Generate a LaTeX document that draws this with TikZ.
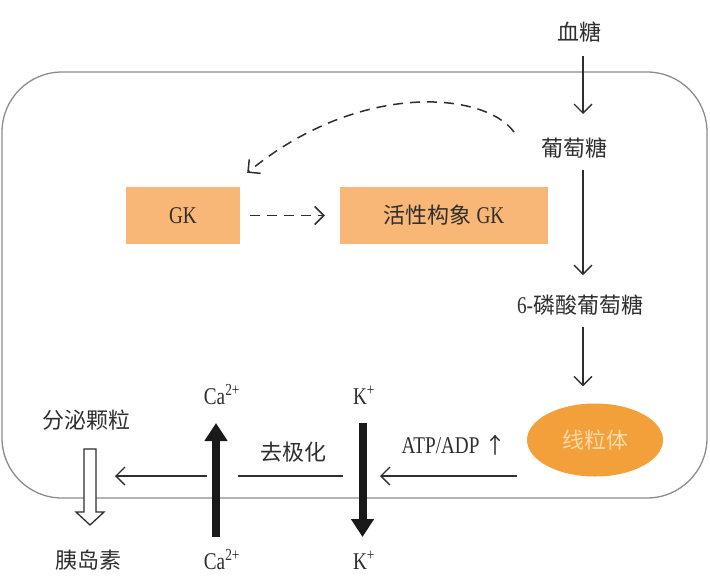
\documentclass[tikz,border=0pt]{standalone}
\usepackage{fontspec}
\setmainfont{Noto Sans CJK SC}
\newfontfamily\latinfont[FakeStretch=0.8]{Liberation Serif}
\usetikzlibrary{arrows.meta,shapes.geometric}
\definecolor{gkfill}{HTML}{F8B777}
\definecolor{mitofill}{HTML}{F4A03A}
\definecolor{mitotext}{HTML}{FCDBA8}
\definecolor{cellgray}{HTML}{8C8C8C}
\definecolor{inkgray}{HTML}{2E2E2E}
\newcommand{\lat}[1]{{\latinfont\fontsize{24}{24}\selectfont #1}}
\tikzstyle{txt}=[font=\fontsize{22}{22}\selectfont, text=inkgray, inner sep=0]
\tikzstyle{enzyme}=[txt, fill=gkfill, minimum height=57pt]
\tikzstyle{flow}=[inkgray, line width=1.3pt, -{Straight Barb[length=9pt,width=18pt]}]
\tikzstyle{dashflow}=[flow, line width=1.5pt, dash pattern=on 10pt off 7pt]
\tikzstyle{channel}=[black!90, line width=8pt, -{Triangle[length=18pt,width=22pt]}]

\begin{document}
\begin{tikzpicture}[x=1pt, y=-1pt]
        \useasboundingbox (0,0) rectangle (710,582);
        % cell membrane
        \draw[cellgray, line width=1.3pt, rounded corners=60pt] (2,72) rectangle (707,498);
        % glucose pathway
        \coordinate (axis) at (583,0);
        \node[txt] (blood) at (579,32) {血糖};
        \node[txt] (glucose) at (574,148) {葡萄糖};
        \node[txt] (g6p) at (580,305) {\lat{6-}磷酸葡萄糖};
        \node[txt, ellipse, fill=mitofill, text=mitotext, minimum width=136pt, minimum height=73pt] (mito) at (595,440) {线粒体};
        \node[enzyme, minimum width=114pt] (gk) at (183,215.5) {\lat{GK}};
        \node[enzyme, minimum width=208pt] (agk) at (444,215.5) {活性构象 \lat{GK}};
        \draw[flow, shorten <=24pt, shorten >=34pt] (blood.center -| axis) -- (glucose.center -| axis);
        \draw[flow, shorten <=22pt, shorten >=30pt] (glucose.center -| axis) -- (g6p.center -| axis);
        \draw[flow, shorten <=22pt, shorten >=17pt] (g6p.center -| axis) -- (mito.north -| axis);
        \draw[dashflow] ([shift={(-60,-16)}]glucose.center) .. controls (485,92) and (360,80) .. ([shift={(7,-14)}]gk.north east);
        \draw[dashflow, shorten <=10pt, shorten >=15pt] (gk) -- (agk);
        % ion channels
        \coordinate (kx) at (362.5,476);
        \coordinate (cax) at (216,476);
        \node[txt] (kin) at (364,395) {\lat{K\textsuperscript{+}}};
        \node[txt] (kout) at (364,560) {\lat{K\textsuperscript{+}}};
        \node[txt] (catop) at (222,395) {\lat{Ca\textsuperscript{2+}}};
        \node[txt] (cabot) at (222,560) {\lat{Ca\textsuperscript{2+}}};
        \node[txt] (atp) at (454,445) {\lat{ATP/ADP} ↑};
        \node[txt] (depol) at (293,452) {去极化};
        \node[txt] (granule) at (86,420) {分泌颗粒};
        \node[txt] (insulin) at (88,560) {胰岛素};
        \draw[channel, shorten <=28pt, shorten >=23pt] (kin.center -| kx) -- (kout.center -| kx);
        \draw[channel, shorten <=23pt, shorten >=28pt] (cabot.center -| cax) -- (catop.center -| cax);
        \draw[flow] ([xshift=-10pt]mito.west |- kx) -- ([xshift=17.5pt]kx);
        \draw[inkgray, line width=1.3pt] ([xshift=-19.5pt]kx) -- ([xshift=22pt]cax);
        \draw[flow] ([xshift=-9pt]cax) -- ([xshift=-101pt]cax);
        % secretion
        \draw[inkgray, line width=1.3pt, fill=white] (84,449) -- (96,449) -- (96,512) -- (104,512) -- (90,525) -- (76,512) -- (84,512) -- cycle;
    \end{tikzpicture}
\end{document}
